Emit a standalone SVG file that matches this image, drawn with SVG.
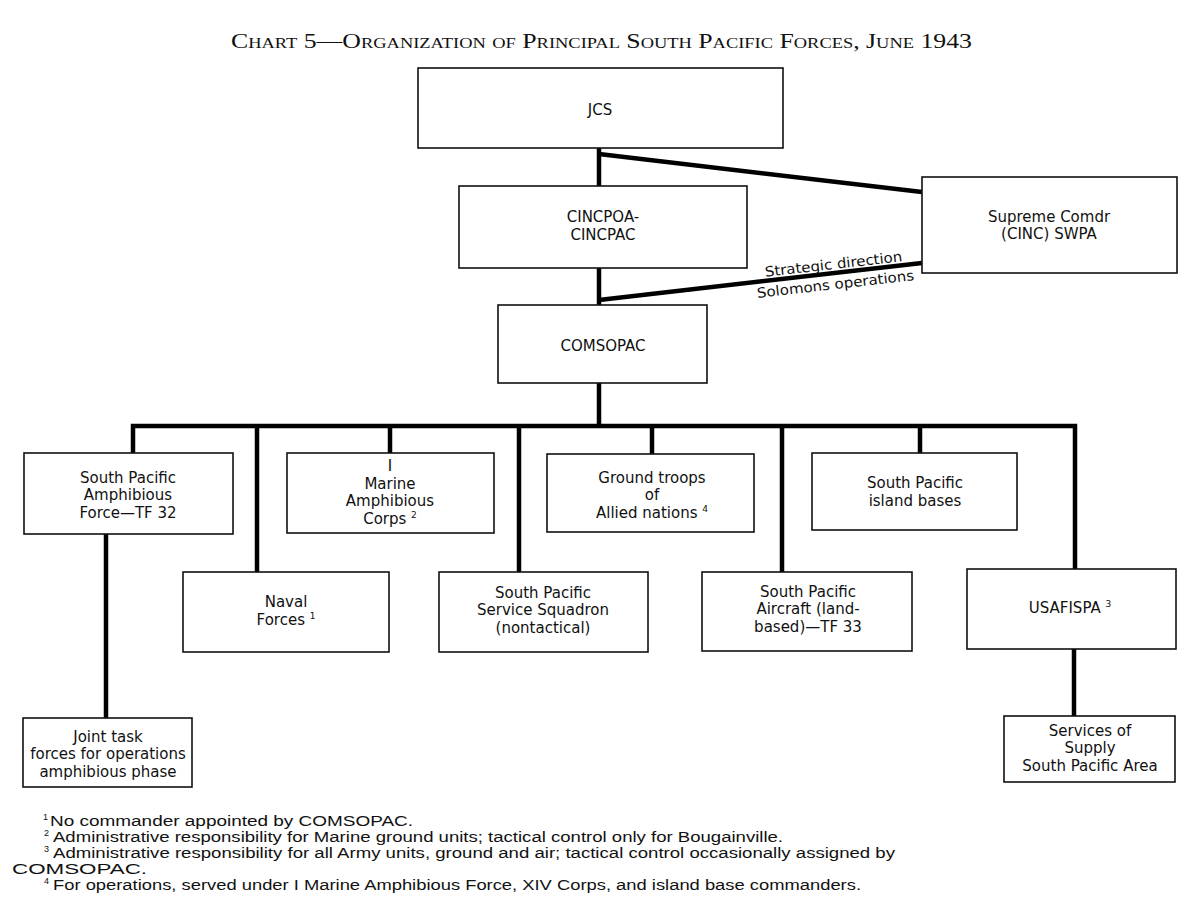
<svg xmlns="http://www.w3.org/2000/svg" width="1200" height="912" viewBox="0 0 1200 912">
<style>
.box{fill:#fff;stroke:#111;stroke-width:1.6}
.t{font-family:"DejaVu Sans","Liberation Sans",sans-serif;font-size:15px;fill:#111;text-anchor:middle}
.sup{font-size:9px}
.c{fill:none;stroke:#000;stroke-width:4.5;stroke-linecap:butt;stroke-linejoin:miter}
.lbl{font-family:"DejaVu Sans","Liberation Sans",sans-serif;font-size:14px;fill:#111;text-anchor:middle}
.fn{font-family:"Liberation Sans",Arial,sans-serif;font-size:14px;fill:#111}
.fs{font-family:"Liberation Sans",Arial,sans-serif;font-size:9px;fill:#111}
.title{font-family:"Liberation Serif",serif;font-size:21px;font-variant:small-caps;fill:#111}
</style>
<rect width="1200" height="912" fill="#fff"/>
<text class="title" x="231" y="48" textLength="741" lengthAdjust="spacingAndGlyphs">Chart 5—Organization of Principal South Pacific Forces, June 1943</text>

<g id="connectors">
<path class="c" d="M599,148 V186"/>
<path class="c" d="M599,268 V305"/>
<path class="c" d="M599,154 L922,192"/>
<path class="c" d="M599,300 L922,263"/>
<path class="c" d="M599,383 V426"/>
<path class="c" d="M133,453 V426 H1075 V569"/>
<path class="c" d="M257,426 V572"/>
<path class="c" d="M390,426 V453"/>
<path class="c" d="M519,426 V572"/>
<path class="c" d="M652,426 V454"/>
<path class="c" d="M782,426 V572"/>
<path class="c" d="M920,426 V453"/>
<path class="c" d="M106,534 V718"/>
<path class="c" d="M1074,649 V716"/>
<text class="lbl" transform="translate(834,269) rotate(-6.5)" textLength="138" lengthAdjust="spacingAndGlyphs" x="0" y="0">Strategic direction</text>
<text class="lbl" transform="translate(836,289) rotate(-6.5)" textLength="158" lengthAdjust="spacingAndGlyphs" x="0" y="0">Solomons operations</text>
</g>

<g id="jcs"><rect class="box" x="418" y="68" width="365" height="80"/><text class="t" x="600" y="115">JCS</text></g>
<g id="cincpoa"><rect class="box" x="459" y="186" width="288" height="82"/><text class="t" x="603" y="222">CINCPOA-</text><text class="t" x="603" y="240">CINCPAC</text></g>
<g id="comsopac"><rect class="box" x="498" y="305" width="209" height="78"/><text class="t" x="603" y="351">COMSOPAC</text></g>
<g id="supreme"><rect class="box" x="922" y="177" width="255" height="96"/><text class="t" x="1049" y="221.5">Supreme Comdr</text><text class="t" x="1049" y="239">(CINC) SWPA</text></g>

<g id="amphib"><rect class="box" x="24" y="453" width="209" height="81"/><text class="t" x="128" y="482.5">South Pacific</text><text class="t" x="128" y="500">Amphibious</text><text class="t" x="128" y="517.5">Force—TF  32</text></g>
<g id="marine"><rect class="box" x="287" y="453" width="207" height="80"/><text class="t" x="390" y="471.25">I</text><text class="t" x="390" y="488.75">Marine</text><text class="t" x="390" y="506.25">Amphibious</text><text class="t" x="390" y="523.75">Corps <tspan class="sup" dy="-6">2</tspan></text></g>
<g id="ground"><rect class="box" x="547" y="454" width="207" height="78"/><text class="t" x="652" y="482.5">Ground troops</text><text class="t" x="652" y="500">of</text><text class="t" x="652" y="517.5">Allied nations <tspan class="sup" dy="-6">4</tspan></text></g>
<g id="island"><rect class="box" x="812" y="453" width="205" height="77"/><text class="t" x="915" y="488">South Pacific</text><text class="t" x="915" y="506">island bases</text></g>

<g id="naval"><rect class="box" x="183" y="572" width="206" height="80"/><text class="t" x="286" y="607">Naval</text><text class="t" x="286" y="625">Forces <tspan class="sup" dy="-6">1</tspan></text></g>
<g id="service"><rect class="box" x="439" y="572" width="209" height="80"/><text class="t" x="543" y="597.5">South Pacific</text><text class="t" x="543" y="615">Service Squadron</text><text class="t" x="543" y="632.5">(nontactical)</text></g>
<g id="aircraft"><rect class="box" x="702" y="572" width="210" height="79"/><text class="t" x="808" y="596.5">South Pacific</text><text class="t" x="808" y="614">Aircraft (land-</text><text class="t" x="808" y="631.5">based)—TF  33</text></g>
<g id="usafispa"><rect class="box" x="967" y="569" width="209" height="80"/><text class="t" x="1070" y="613">USAFISPA <tspan class="sup" dy="-6">3</tspan></text></g>

<g id="joint"><rect class="box" x="23" y="718" width="169" height="69"/><text class="t" x="108" y="741.5">Joint task</text><text class="t" x="108" y="759">forces for operations</text><text class="t" x="108" y="776.5">amphibious phase</text></g>
<g id="supply"><rect class="box" x="1004" y="716" width="171" height="66"/><text class="t" x="1090" y="735.5">Services of</text><text class="t" x="1090" y="753">Supply</text><text class="t" x="1090" y="770.5">South Pacific Area</text></g>

<g id="footnotes">
<text class="fs" x="43" y="820">1</text>
<text class="fn" x="50" y="826" textLength="363" lengthAdjust="spacingAndGlyphs">No commander appointed by COMSOPAC.</text>
<text class="fs" x="44" y="836">2</text>
<text class="fn" x="53" y="842" textLength="730" lengthAdjust="spacingAndGlyphs">Administrative responsibility for Marine ground units; tactical control only for Bougainville.</text>
<text class="fs" x="44" y="852">3</text>
<text class="fn" x="53" y="858" textLength="842" lengthAdjust="spacingAndGlyphs">Administrative responsibility for all Army units, ground and air; tactical control occasionally assigned by</text>
<text class="fn" x="12" y="874" textLength="135" lengthAdjust="spacingAndGlyphs">COMSOPAC.</text>
<text class="fs" x="44" y="884">4</text>
<text class="fn" x="53" y="890" textLength="808" lengthAdjust="spacingAndGlyphs">For operations, served under I Marine Amphibious Force, XIV Corps, and island base commanders.</text>
</g>
</svg>
